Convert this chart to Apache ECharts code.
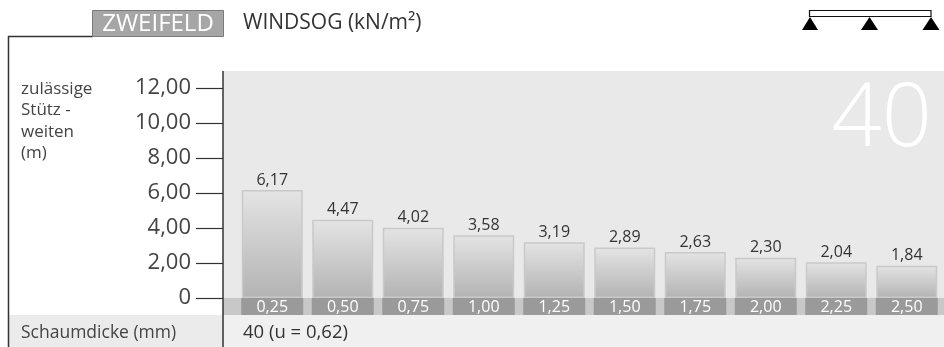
<!DOCTYPE html>
<html>
<head>
<meta charset="utf-8">
<script src="https://cdn.jsdelivr.net/npm/echarts@6/dist/echarts.min.js"></script>
<style>
  html, body { margin: 0; padding: 0; background: #ffffff; }
  #chart { width: 944px; height: 347px; }
</style>
</head>
<body>
<div id="chart"></div>
<script>
// Windsog-Lasten (kN/m²) und zulässige Stützweiten (m), Zweifeldträger, Schaumdicke 40 mm
const categories = ['0,25', '0,50', '0,75', '1,00', '1,25', '1,50', '1,75', '2,00', '2,25', '2,50'];
const spans = [6.17, 4.47, 4.02, 3.58, 3.19, 2.89, 2.63, 2.30, 2.04, 1.84];
const yTickValues = [0, 2, 4, 6, 8, 10, 12];
const thicknessLabel = '40 (u = 0,62)';
const bigNumber = '40';

const FONT = '"Open Sans", "Noto Sans", sans-serif';
const fmt = v => v === 0 ? '0' : v.toFixed(2).replace('.', ',');

const chart = echarts.init(document.getElementById('chart'), null, { renderer: 'canvas' });

const BG = -100;
const option = {
  animation: false,
  backgroundColor: '#ffffff',
  textStyle: { fontFamily: FONT },
  grid: { left: 237, right: 2, top: 88, bottom: 49 },
  xAxis: {
    type: 'category',
    data: categories,
    axisLine: { show: false },
    axisTick: { show: false },
    axisLabel: {
      margin: 0,
      color: '#ffffff',
      fontSize: 16,
      fontFamily: FONT,
      backgroundColor: '#9a9a9a',
      width: 62,
      height: 17,
      lineHeight: 18,
      align: 'center',
      verticalAlign: 'top',
      padding: 0
    }
  },
  yAxis: {
    type: 'value',
    min: yTickValues[0],
    max: yTickValues[yTickValues.length - 1],
    interval: 2,
    offset: 14,
    splitLine: { show: false },
    axisLine: { show: false },
    axisTick: { show: true, length: 27, lineStyle: { color: '#333333', width: 1.2 } },
    axisLabel: {
      margin: 32,
      fontSize: 22,
      color: '#444444',
      fontFamily: FONT,
      formatter: fmt
    }
  },
  series: [{
    type: 'bar',
    data: spans,
    barWidth: 61,
    itemStyle: {
      color: new echarts.graphic.LinearGradient(0, 0, 0, 1, [
        { offset: 0, color: '#e4e4e4' },
        { offset: 1, color: '#b3b3b3' }
      ]),
      borderColor: '#c9c9c9',
      borderWidth: 1.5
    },
    label: {
      show: true,
      position: 'top',
      distance: 2,
      fontSize: 16,
      color: '#333333',
      fontFamily: FONT,
      formatter: p => fmt(p.value)
    },
    z: 2
  }],
  graphic: [
    // Hintergrund Diagrammfläche
    { type: 'rect', z: BG, silent: true, shape: { x: 223, y: 71, width: 721, height: 227 }, style: { fill: '#e9e9e9' } },
    // Band hinter den Windsog-Werten
    { type: 'rect', z: BG, silent: true, shape: { x: 223, y: 298, width: 721, height: 17 }, style: { fill: '#c8c8c8' } },
    // Tabellenzeile Schaumdicke
    { type: 'rect', z: BG, silent: true, shape: { x: 9, y: 315, width: 214, height: 32 }, style: { fill: '#ebebeb' } },
    { type: 'rect', z: BG, silent: true, shape: { x: 223, y: 315, width: 721, height: 32 }, style: { fill: '#f0f0f0' } },
    // Rahmenlinien
    { type: 'polyline', z: 50, silent: true, shape: { points: [[8.5, 347], [8.5, 36.5], [93, 36.5]] }, style: { stroke: '#333333', lineWidth: 1.5, fill: null } },
    { type: 'line', z: 50, silent: true, shape: { x1: 223, y1: 71, x2: 223, y2: 347 }, style: { stroke: '#333333', lineWidth: 1.5 } },
    // Kennzeichnung ZWEIFELD
    { type: 'rect', z: 50, silent: true, shape: { x: 92.5, y: 10.5, width: 131, height: 26 }, style: { fill: '#a6a6a6', stroke: '#7a7a7a', lineWidth: 1 } },
    { type: 'text', z: 51, silent: true, style: { x: 158, y: 24, text: 'ZWEIFELD', fill: '#ffffff', font: '24px ' + FONT, align: 'center', verticalAlign: 'middle' } },
    { type: 'text', z: 51, silent: true, style: { x: 243, y: 23, text: 'WINDSOG (kN/m²)', fill: '#333333', font: '21px ' + FONT, align: 'left', verticalAlign: 'middle' } },
    // Achsentitel
    { type: 'text', z: 51, silent: true, style: { x: 21, y: 78, text: 'zulässige\nStütz -\nweiten\n(m)', fill: '#444444', font: '17px ' + FONT, lineHeight: 21.5, align: 'left', verticalAlign: 'top' } },
    // Tabellenzeile Texte
    { type: 'text', z: 51, silent: true, style: { x: 21, y: 333, text: 'Schaumdicke (mm)', fill: '#444444', font: '17.5px ' + FONT, align: 'left', verticalAlign: 'middle' } },
    { type: 'text', z: 51, silent: true, style: { x: 243, y: 333, text: thicknessLabel, fill: '#333333', font: '18.5px ' + FONT, align: 'left', verticalAlign: 'middle' } },
    // große Dickenangabe
    { type: 'text', z: 1, silent: true, style: { x: 932, y: 121, text: bigNumber, fill: '#ffffff', font: '300 88px ' + FONT, align: 'right', verticalAlign: 'middle' } },
    // Statisches System: Zweifeldträger
    { type: 'rect', z: 50, silent: true, shape: { x: 809.5, y: 10.5, width: 121.5, height: 6 }, style: { fill: '#ffffff', stroke: '#111111', lineWidth: 1.2 } },
    { type: 'polygon', z: 50, silent: true, shape: { points: [[802, 30], [810, 17], [818, 30]] }, style: { fill: '#000000' } },
    { type: 'polygon', z: 50, silent: true, shape: { points: [[861, 30], [869.5, 17], [878, 30]] }, style: { fill: '#000000' } },
    { type: 'polygon', z: 50, silent: true, shape: { points: [[922.5, 30], [931, 17], [939.5, 30]] }, style: { fill: '#000000' } }
  ]
};

chart.setOption(option);
</script>
</body>
</html>
